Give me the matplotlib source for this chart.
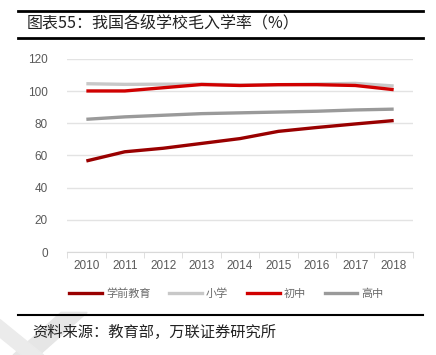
import numpy as np
import matplotlib
matplotlib.use("Agg")
import matplotlib.pyplot as plt
from matplotlib.lines import Line2D
from matplotlib.patches import Polygon

plt.rcParams['font.family'] = ['Noto Sans CJK SC', 'DejaVu Sans']

years = [2010, 2011, 2012, 2013, 2014, 2015, 2016, 2017, 2018]
preschool = [56.6, 62.3, 64.5, 67.5, 70.5, 75.0, 77.4, 79.6, 81.7]
primary = [104.6, 104.2, 104.3, 104.4, 103.8, 104.0, 104.4, 104.8, 103.2]
junior = [100.1, 100.1, 102.1, 104.1, 103.5, 104.0, 104.0, 103.5, 100.9]
senior = [82.5, 84.0, 85.0, 86.0, 86.5, 87.0, 87.5, 88.3, 88.8]

names = ["学前教育", "小学", "初中", "高中"]
colors = ["#990000", "#C8C8C8", "#D00000", "#9A9A9A"]
series = [preschool, primary, junior, senior]

fig = plt.figure(figsize=(4.36, 3.55), dpi=100)
ax = fig.add_axes([0.154, 0.290, 0.793, 0.544])

x = np.arange(len(years))
# light lines first so the reds sit on top
for i in [1, 3, 0, 2]:
    ax.plot(x, series[i], color=colors[i], lw=2.4, solid_capstyle='butt')

ax.set_xlim(-0.5, len(years) - 0.5)
ax.set_ylim(0, 120)
ax.set_yticks(range(0, 121, 20))
ax.set_xticks(x)
ax.set_xticklabels([str(y) for y in years], family='Liberation Sans')
for t in ax.get_yticklabels():
    t.set_family('Liberation Sans')
ax.set_xticks(np.arange(-0.5, len(years), 1), minor=True)
ax.tick_params(axis='x', which='major', length=0, labelsize=8.5, colors='#595959', pad=6)
ax.tick_params(axis='x', which='minor', length=4, color='#D9D9D9')
ax.tick_params(axis='y', length=0, labelsize=8.5, colors='#595959', pad=14)
ax.grid(axis='y', color='#E3E3E3', lw=1)
ax.set_axisbelow(True)
for s in ['left', 'right', 'top']:
    ax.spines[s].set_visible(False)
ax.spines['bottom'].set_color('#D9D9D9')

handles = [Line2D([0], [0], color=c, lw=2.4) for c in colors]
fig.legend(handles, names, loc='center', bbox_to_anchor=(0.52, 0.172), ncol=4,
           frameon=False, fontsize=8, handlelength=2.9, handletextpad=0.4,
           columnspacing=1.7, labelcolor='#6A6A6A')

# faint watermark in the lower left corner
fig.add_artist(Polygon([[0.03, 0.0], [0.09, 0.0], [0.20, 0.12], [0.14, 0.12]],
                       closed=True, color='#E6E6E6', zorder=0, transform=fig.transFigure))
fig.add_artist(Polygon([[0.0, 0.05], [0.05, 0.0], [0.10, 0.0], [0.0, 0.10]],
                       closed=True, color='#EBEBEB', zorder=0, transform=fig.transFigure))

# title block
fig.add_artist(Line2D([0.041, 0.970], [1 - 11/355, 1 - 11/355], color='black', lw=2))
fig.text(0.062, 1 - 23/355, "图表55：我国各级学校毛入学率（%）", fontsize=11.5,
         va='center', ha='left', color='#222222')
fig.add_artist(Line2D([0.041, 0.970], [1 - 38/355, 1 - 38/355], color='black', lw=2))

# source
fig.add_artist(Line2D([0.041, 0.970], [1 - 315/355, 1 - 315/355], color='black', lw=1.5))
fig.text(0.073, 1 - 332/355, "资料来源：教育部，万联证券研究所", fontsize=11,
         va='center', ha='left', color='#222222', style='italic')

fig.savefig("out.png", dpi=100)
